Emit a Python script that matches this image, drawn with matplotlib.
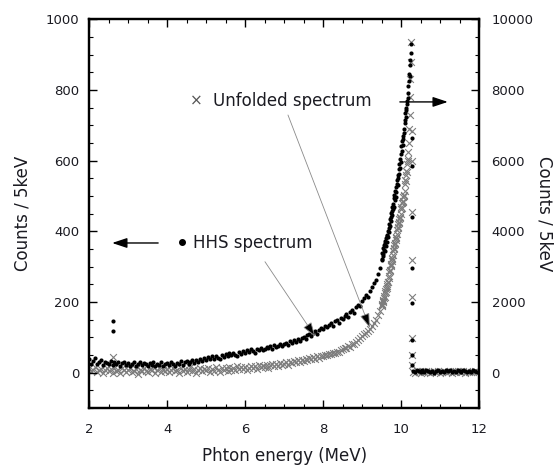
import numpy as np
import matplotlib
matplotlib.use("Agg")
import matplotlib.pyplot as plt
from matplotlib.ticker import MultipleLocator

plt.rcParams['font.family'] = ['DejaVu Sans']
TXT = '#1b1b22'

# ---------------- data ----------------
# HHS spectrum (left axis, counts / 5 keV), coarse part 2.00-9.45 MeV step 0.05
hhs_e_coarse = np.round(np.arange(2.0, 9.45 + 1e-9, 0.05), 2)
hhs_coarse = [
    38, 26, 33, 41, 24, 30, 35, 22, 31, 27,
    25, 33, 21, 29, 24, 31, 19, 27, 30, 22,
    28, 20, 26, 31, 18, 25, 29, 21, 27, 24,
    19, 28, 23, 30, 20, 26, 22, 29, 18, 25,
    27, 21, 30, 24, 19, 28, 25, 32, 22, 29,
    33, 26, 31, 37, 28, 35, 30, 39, 34, 41,
    36, 44, 38, 46, 40, 48, 43, 39, 50, 45,
    52, 46, 55, 49, 57, 51, 47, 59, 54, 61,
    56, 63, 58, 66, 61, 55, 68, 63, 70, 64,
    67, 73, 69, 76, 66, 79, 72, 75, 82, 77,
    80, 85, 78, 89, 84, 92, 87, 95, 90, 98,
    101, 96, 106, 110, 104, 113, 118, 109, 121, 126,
    124, 131, 128, 136, 140, 133, 145, 150, 142, 155,
    152, 160, 166, 158, 172, 178, 170, 185, 192, 188,
    203, 212, 220, 215, 232, 243, 255, 262, 280, 296,
]
# fine part 9.50-10.26 MeV step 0.01
hhs_e_fine = np.round(np.arange(9.50, 10.26 + 1e-9, 0.01), 2)
hhs_fine = [
    322, 340, 318, 335, 352, 330, 347, 361, 344, 366,
    372, 358, 380, 391, 370, 388, 402, 384, 410, 398,
    420, 436, 415, 441, 452, 430, 458, 446, 470, 462,
    478, 495, 470, 502, 488, 515, 498, 524, 510, 535,
    545, 530, 560, 552, 575, 562, 590, 578, 605, 596,
    620, 640, 628, 655, 645, 670, 662, 690, 678, 705,
    715, 735, 722, 750, 742, 768, 760, 790, 778, 810,
    825, 845, 838, 870, 885, 905, 930,
]
# points above the edge and outliers
hhs_out_e = [2.62, 2.62, 10.28, 10.28, 10.28, 10.28, 10.28, 10.28, 10.28, 10.28]
hhs_out = [146, 118, 665, 585, 440, 296, 197, 93, 51, 23]
# flat tail 10.30-11.95
tail_e = np.round(np.arange(10.30, 11.95 + 1e-9, 0.05), 2)
hhs_tail = [6, 2, 8, 4, 1, 7, 3, 9, 5, 2, 6, 0, 4, 8, 3, 5, 1, 7,
            4, 9, 2, 6, 3, 8, 5, 1, 7, 4, 2, 6, 3, 8, 5, 2]

# Unfolded spectrum (right axis, counts / 5 keV)
unf_coarse = [
    120, 40, 90, 150, 20, 80, 110, -10, 70, 130,
    60, 100, 0, 140, 50, 90, -20, 120, 70, 30,
    80, 130, 10, 60, 110, -30, 90, 40, 140, 50,
    20, 100, 70, 150, 0, 80, 120, 30, 90, 60,
    110, 10, 70, 140, 40, 90, -20, 120, 60, 100,
    30, 80, 150, 50, 110, 0, 90, 130, 40, 100,
    70, 140, 20, 110, 60, 160, 80, 30, 130, 90,
    120, 50, 160, 90, 140, 70, 180, 100, 150, 110,
    170, 90, 140, 200, 120, 180, 100, 210, 150, 190,
    160, 230, 140, 210, 250, 180, 240, 200, 270, 220,
    250, 290, 230, 310, 270, 330, 290, 350, 310, 370,
    340, 390, 360, 410, 380, 440, 400, 460, 430, 480,
    470, 510, 490, 540, 520, 570, 550, 600, 580, 630,
    660, 700, 690, 750, 740, 800, 810, 870, 920, 980,
    1040, 1100, 1130, 1190, 1250, 1330, 1400, 1500, 1620, 1760,
]
unf_fine = [
    1880, 1950, 1920, 2010, 2060, 2030, 2120, 2180, 2150, 2250,
    2300, 2280, 2380, 2440, 2410, 2520, 2580, 2560, 2680, 2740,
    2850, 2920, 2890, 3010, 3080, 3050, 3170, 3250, 3220, 3340,
    3450, 3520, 3490, 3610, 3680, 3650, 3760, 3830, 3800, 3920,
    4050, 4120, 4090, 4200, 4260, 4230, 4340, 4400, 4380, 4490,
    4620, 4700, 4660, 4790, 4860, 4830, 4960, 5040, 5010, 5150,
    5350, 5450, 5420, 5600, 5720, 5680, 5900, 6050, 6000, 6250,
    6500, 6900, 7300, 7800, 8300, 8800, 9350,
]
unf_out_e = [2.62, 10.28, 10.28, 10.28, 10.28, 10.28, 10.28, 10.28, 10.28]
unf_out = [450, 6850, 6000, 4550, 3180, 2140, 990, 510, 230]
unf_tail = [30, 0, 50, 20, -10, 40, 10, 60, 20, 0, 30, 50, 10, 40, 0, 20, 60, 30,
            10, 50, 0, 40, 20, 60, 30, 10, 40, 0, 50, 20, 30, 10, 40, 20]

# ---------------- figure ----------------
fig = plt.figure(figsize=(5.57, 4.68), dpi=100)
ax = fig.add_axes([0.160, 0.128, 0.700, 0.831])
ax2 = ax.twinx()

# unfolded (right axis)
ue = np.concatenate([hhs_e_coarse, hhs_e_fine, unf_out_e, tail_e])
uv = np.concatenate([unf_coarse, unf_fine, unf_out, unf_tail])
ax2.scatter(ue, uv, marker='x', s=24, c='#7d7d7d', linewidths=0.8, zorder=2)

# HHS (left axis)
he = np.concatenate([hhs_e_coarse, hhs_e_fine, hhs_out_e, tail_e])
hv = np.concatenate([hhs_coarse, hhs_fine, hhs_out, hhs_tail])
ax.scatter(he, hv, marker='o', s=9, c='black', linewidths=0, zorder=3)
ax.set_zorder(ax2.get_zorder() + 1)
ax.patch.set_visible(False)

ax.set_xlim(2, 12)
ax.set_ylim(-100, 1000)
ax2.set_ylim(-1000, 10000)

ax.xaxis.set_major_locator(MultipleLocator(2))
ax.xaxis.set_minor_locator(MultipleLocator(0.5))
ax.yaxis.set_major_locator(MultipleLocator(200))
ax.yaxis.set_minor_locator(MultipleLocator(50))
ax2.yaxis.set_major_locator(MultipleLocator(2000))
ax2.yaxis.set_minor_locator(MultipleLocator(500))

for a in (ax, ax2):
    a.tick_params(which='major', direction='in', length=6, width=1.0,
                  labelsize=9.5, labelcolor=TXT, color='black')
    a.tick_params(which='minor', direction='in', length=3, width=0.8, color='black')
    for s in a.spines.values():
        s.set_linewidth(1.6)
ax.tick_params(axis='x', which='both', top=True, pad=11)
ax.tick_params(axis='y', which='both', right=False, pad=7)
ax2.tick_params(axis='y', which='both', left=False, pad=9)

ax.set_xlabel('Phton energy (MeV)', fontsize=12, color=TXT, labelpad=8)
ax.set_ylabel('Counts / 5keV', fontsize=12, color=TXT, labelpad=10)
ax2.set_ylabel('Counts / 5keV', fontsize=12, color=TXT, rotation=-90, labelpad=8,
               va='center')

# ---------------- annotations ----------------
ax.text(4.74, 769, '×', fontsize=11, color='#555555', ha='center', va='center')
ax.text(5.18, 769, 'Unfolded spectrum', fontsize=12, color=TXT, ha='left', va='center')
ax.annotate('', xy=(11.2, 766), xytext=(9.97, 766),
            arrowprops=dict(arrowstyle='-|>,head_length=0.9,head_width=0.3',
                            lw=1.0, color='black', shrinkA=0, shrinkB=0))
ax.annotate('', xy=(9.2, 127), xytext=(7.1, 729),
            arrowprops=dict(arrowstyle='-|>,head_length=0.9,head_width=0.3',
                            lw=0.6, ec='#8a8a8a', fc='black', shrinkA=0, shrinkB=0))

ax.plot([4.38], [370], marker='o', ms=4, color='black')
ax.text(4.67, 367, 'HHS spectrum', fontsize=12, color=TXT, ha='left', va='center')
ax.annotate('', xy=(2.59, 367), xytext=(3.77, 367),
            arrowprops=dict(arrowstyle='-|>,head_length=0.9,head_width=0.3',
                            lw=1.0, color='black', shrinkA=0, shrinkB=0))
ax.annotate('', xy=(7.8, 102), xytext=(6.51, 314),
            arrowprops=dict(arrowstyle='-|>,head_length=0.9,head_width=0.3',
                            lw=0.6, ec='#8a8a8a', fc='black', shrinkA=0, shrinkB=0))

fig.savefig('out.png', dpi=100)
